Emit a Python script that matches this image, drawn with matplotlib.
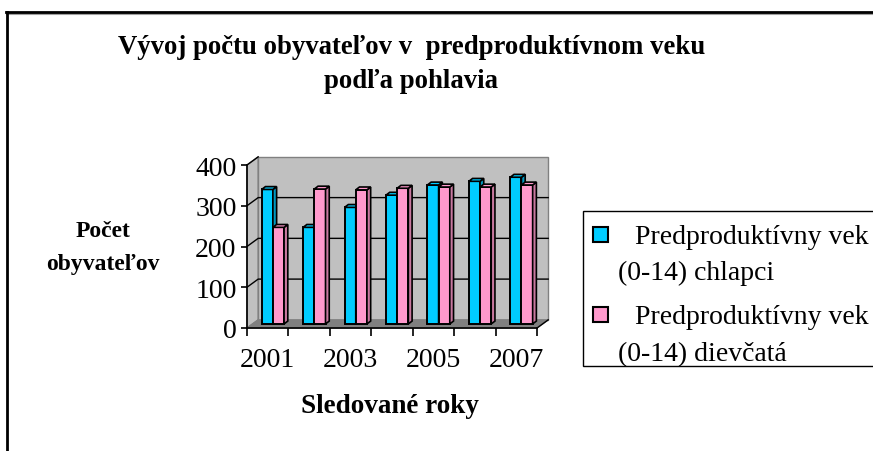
import numpy as np
import matplotlib
matplotlib.use('Agg')
import matplotlib.pyplot as plt
from matplotlib.patches import Rectangle, Polygon
from matplotlib.lines import Line2D
import matplotlib.transforms as mtransforms

# data
years = ['2001', '2002', '2003', '2004', '2005', '2006', '2007']
boys = [330, 237, 286, 316, 341, 350, 360]
girls = [237, 331, 329, 333, 336, 336, 341]
y_ticks = [0, 100, 200, 300, 400]
legend_labels = ['Predproduktívny vek', 'Predproduktívny vek']
legend_lines2 = ['(0-14) chlapci', '(0-14) dievčatá']

blue = '#00ccff'
blue_side = '#0099c0'
pink = '#ff99cc'
pink_side = '#c9789f'
wall = '#c0c0c0'
floor = '#808080'

plt.rcParams['font.family'] = ['Liberation Serif', 'DejaVu Serif']

W, H = 873, 452
fig = plt.figure(figsize=(W / 100, H / 100), dpi=100)

def fx(px):
    return px / W

def fy(py):
    return 1 - py / H

# front plane of the 3D box
ax = fig.add_axes([fx(247), fy(329), fx(290), 163 / H])
n = len(years)
ax.set_xlim(0, n)
ax.set_ylim(0, 400)

DX, DY = 0.27, 20   # depth of the box in data units

# left side wall, back wall, floor
ax.add_patch(Polygon([(0, 0), (DX, DY), (DX, 400 + DY), (0, 400)],
                     closed=True, fc=wall, ec='#808080', lw=1, clip_on=False, zorder=0))
ax.add_patch(Rectangle((DX, DY), n, 400, fc=wall, ec='#808080', lw=1, clip_on=False, zorder=0))
ax.add_patch(Polygon([(0, 0), (n, 0), (n + DX, DY), (DX, DY)],
                     closed=True, fc=floor, ec='#808080', lw=1, clip_on=False, zorder=0.5))

for v in y_ticks[1:-1]:
    ax.plot([0, DX, n + DX], [v, v + DY, v + DY], color='black', lw=1, clip_on=False, zorder=0.6)
ax.plot([0, DX], [400, 400 + DY], color='black', lw=1, clip_on=False, zorder=0.6)
ax.plot([n, n + DX], [0, DY], color='black', lw=1, clip_on=False, zorder=0.6)

# bars sit in the middle of the depth
mid = mtransforms.Affine2D().translate(DX / 2, DY / 2) + ax.transData

x = np.arange(n)
w = 0.27
cd, ce = 0.09, 7   # cap depth

def draw_bars(xs, vals, face, side, z):
    bars = ax.bar(xs, vals, width=w, align='edge', color=face, edgecolor='black',
                  lw=1.4, transform=mid, clip_on=False, zorder=z)
    for b in bars:
        x0, h, bw = b.get_x(), b.get_height(), b.get_width()
        ax.add_patch(Polygon([(x0 + bw, 0), (x0 + bw + cd, ce), (x0 + bw + cd, h + ce), (x0 + bw, h)],
                             closed=True, fc=side, ec='black', lw=1.2, transform=mid,
                             clip_on=False, zorder=z))
        ax.add_patch(Polygon([(x0, h), (x0 + bw, h), (x0 + bw + cd, h + ce), (x0 + cd, h + ce)],
                             closed=True, fc=face, ec='black', lw=1.2, transform=mid,
                             clip_on=False, zorder=z))

for i in range(n):
    draw_bars([x[i] + 0.22], [boys[i]], blue, blue_side, 2 + i * 2)
    draw_bars([x[i] + 0.22 + w], [girls[i]], pink, pink_side, 3 + i * 2)

# axes: front lines, ticks and labels
for s in ['top', 'right']:
    ax.spines[s].set_visible(False)
ax.spines['left'].set_linewidth(1.2)
ax.spines['bottom'].set_linewidth(1.2)
ax.spines['left'].set_zorder(1)
ax.spines['bottom'].set_zorder(1)
ax.set_facecolor('none')

ax.set_yticks(y_ticks)
ax.set_yticklabels([str(v) for v in y_ticks])
ax.tick_params(axis='y', direction='out', length=4.5, width=1.2, pad=3, labelsize=20)

ax.set_xticks(np.arange(n + 1))
ax.set_xticklabels([])
ax.set_xticks(x[::2] + 0.5, minor=True)
ax.set_xticklabels(years[::2], minor=True)
ax.tick_params(axis='x', which='major', direction='out', length=6, width=1.2)
ax.tick_params(axis='x', which='minor', length=0, pad=14, labelsize=20)

# titles
fig.text(fx(412), fy(47), 'Vývoj počtu obyvateľov v  predproduktívnom veku',
         ha='center', va='center', fontsize=19.3, fontweight='bold')
fig.text(fx(411), fy(82), 'podľa pohlavia', ha='center', va='center', fontsize=19.3, fontweight='bold')
fig.text(fx(103), fy(248), 'Počet\nobyvateľov', ha='center', va='center',
         fontsize=17, fontweight='bold', linespacing=1.8)
fig.text(fx(390), fy(407), 'Sledované roky', ha='center', va='center',
         fontsize=19.5, fontweight='bold')

# legend box, drawn by hand because the labels wrap under the marker
fig.patches.append(Rectangle((fx(583), fy(367)), fx(300), (367 - 212) / H,
                             transform=fig.transFigure, fc='white', ec='black', lw=1))
for k, (face, yy) in enumerate([(blue, 235), (pink, 315)]):
    fig.patches.append(Rectangle((fx(593), fy(yy + 8)), fx(15), 15 / H,
                                 transform=fig.transFigure, fc=face, ec='black', lw=1.5))
    fig.text(fx(635), fy(yy + 3), legend_labels[k], ha='left', va='center', fontsize=20)
    fig.text(fx(618), fy(yy + 38 + k * 2), legend_lines2[k], ha='left', va='center', fontsize=20)

# outer chart border with shadow
fig.add_artist(Line2D([fx(7), 1], [fy(15), fy(15)], color='#a0a0a0', lw=1.5, transform=fig.transFigure))
fig.add_artist(Line2D([fx(6), 1], [fy(13), fy(13)], color='black', lw=2, transform=fig.transFigure))
fig.add_artist(Line2D([fx(7), fx(7)], [fy(13), 0], color='black', lw=2, transform=fig.transFigure))

fig.savefig('out.png', dpi=100)
